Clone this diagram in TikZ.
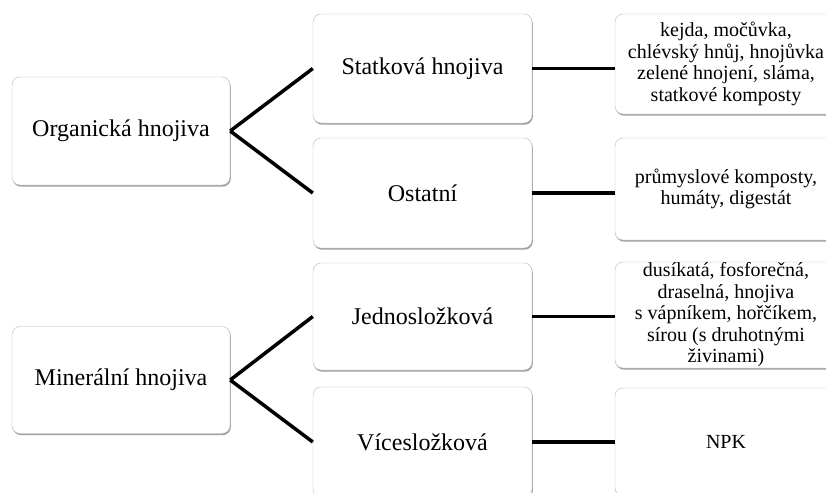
\documentclass[tikz,border=0pt]{standalone}
\usepackage{fontspec}
\setmainfont{Liberation Serif}
\usetikzlibrary{shadows}
\tikzset{
	box/.style = {draw = gray!55, fill = white, rounded corners = 8pt, align = center, inner sep = 0pt,
		drop shadow = {shadow xshift = 0.8pt, shadow yshift = -1.6pt, fill = gray!75, opacity = 1}},
	big/.style = {box, font = \fontsize{24}{28}\selectfont},
	small/.style = {box, font = \fontsize{20}{21.5}\selectfont, minimum width = 222pt},
	link/.style = {line width = 3.5pt}
}
\begin{document}
\begin{tikzpicture} [x = 1pt, y = -1pt]
	\clip (0,0) rectangle (826,492);
	\fill [white] (0,0) rectangle (826,492);
	\node [big, minimum width = 218pt, minimum height = 108pt] (org) at (121,131) {Organická hnojiva};
	\node [big, minimum width = 218pt, minimum height = 107pt] (min) at (121,380) {Minerální hnojiva};
	\node [big, minimum width = 219pt, minimum height = 109pt] (stat) at (422.5,68.5) {Statková hnojiva};
	\node [big, minimum width = 219pt, minimum height = 110pt] (ost) at (422.5,193) {Ostatní};
	\node [big, minimum width = 219pt, minimum height = 107pt] (jedno) at (422.5,316.5) {Jednosložková};
	\node [big, minimum width = 219pt, minimum height = 110pt] (vice) at (422.5,442) {Vícesložková};
	\node [small, minimum height = 100pt] (statlist) at (726,64) {kejda, močůvka,\\chlévský hnůj, hnojůvka\\zelené hnojení, sláma,\\statkové komposty};
	\node [small, minimum height = 102pt] (ostlist) at (726,189) {průmyslové komposty,\\humáty, digestát};
	\node [small, minimum height = 106pt] (jednolist) at (726,315) {dusíkatá, fosforečná,\\draselná, hnojiva\\s vápníkem, hořčíkem,\\sírou (s druhotnými\\živinami)};
	\node [small, minimum height = 108pt] (vicelist) at (726,442) {NPK};
	%\node at (413,0) {};
	\draw [link] (org.east) -- (stat.west);
	\draw [link] (org.east) -- (ost.west);
	\draw [link] (min.east) -- (jedno.west);
	\draw [link] (min.east) -- (vice.west);
	\draw [link] (stat.east) -- (stat.east -| statlist.west);
	\draw [link] (ost.east) -- (ost.east -| ostlist.west);
	\draw [link] (jedno.east) -- (jedno.east -| jednolist.west);
	\draw [link] (vice.east) -- (vice.east -| vicelist.west);
	\end{tikzpicture}
\end{document}
